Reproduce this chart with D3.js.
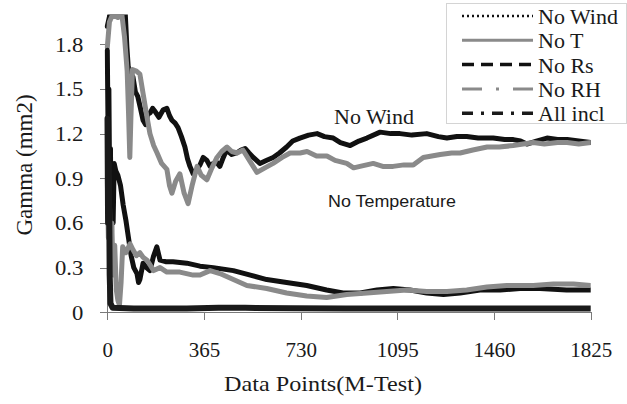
<!DOCTYPE html>
<html>
<head>
<meta charset="utf-8">
<script src="https://cdn.jsdelivr.net/npm/d3@7/dist/d3.min.js"></script>
<style>
  body { margin: 0; background: #fff; }
  svg { display: block; }
  .axis path, .axis line { stroke: #7a7a7a; shape-rendering: crispEdges; }
  .axis text { font-family: "Liberation Serif", serif; font-size: 21px; fill: #1a1a1a; }
  .label { font-family: "Liberation Serif", serif; fill: #1a1a1a; }
  .series { fill: none; stroke-linejoin: round; stroke-linecap: round; }
</style>
</head>
<body>
<svg id="chart" width="627" height="404"></svg>
<script>
// values: [data point, gamma]
var noWind = [[0,1.92],[10,2.0],[30,2.0],[50,2.0],[68,2.0],[74,1.78],[79,1.65],[88,1.60],[97,1.58],
  [106,1.48],[115,1.45],[124,1.38],[135,1.29],[145,1.26],[152,1.33],[162,1.34],[171,1.37],[180,1.35],
  [195,1.31],[211,1.36],[225,1.37],[235,1.32],[244,1.29],[256,1.27],[267,1.24],[280,1.18],[293,1.11],
  [303,1.03],[312,0.98],[324,0.93],[338,0.96],[350,0.99],[362,1.04],[376,1.02],[388,0.98],[400,1.00],
  [412,1.01],[425,0.98],[438,1.04],[450,1.09],[470,1.06],[488,1.07],[505,1.09],[520,1.10],[535,1.07],
  [551,1.04],[576,1.00],[600,1.02],[626,1.04],[650,1.07],[677,1.11],[700,1.15],[727,1.17],[760,1.19],
  [792,1.20],[820,1.18],[853,1.17],[880,1.14],[917,1.12],[950,1.15],[980,1.17],[1030,1.21],[1070,1.20],
  [1105,1.20],[1150,1.19],[1206,1.20],[1250,1.18],[1282,1.17],[1320,1.18],[1357,1.18],[1400,1.17],
  [1457,1.17],[1500,1.16],[1533,1.16],[1560,1.15],[1584,1.13],[1620,1.15],[1660,1.17],[1700,1.16],
  [1736,1.16],[1780,1.15],[1825,1.14]];
var noT = [[0,1.78],[8,1.95],[20,2.0],[40,1.98],[55,2.0],[65,1.85],[75,1.62],[80,1.35],[85,1.04],
  [89,1.30],[95,1.63],[110,1.62],[123,1.60],[135,1.47],[148,1.33],[161,1.20],[175,1.12],[188,1.07],
  [205,1.00],[225,0.96],[235,0.85],[244,0.80],[258,0.88],[274,0.93],[290,0.80],[305,0.73],[320,0.85],
  [339,0.98],[355,0.92],[376,0.89],[395,0.97],[414,1.04],[432,1.08],[452,1.11],[470,1.08],[490,1.07],
  [512,1.09],[540,1.01],[565,0.94],[595,0.97],[626,1.00],[660,1.04],[690,1.07],[728,1.07],[754,1.08],
  [790,1.05],[829,1.05],[860,1.02],[904,1.00],[930,0.97],[954,0.98],[1004,1.00],[1040,0.98],[1079,0.98],
  [1120,0.99],[1155,0.99],[1193,1.04],[1225,1.05],[1257,1.06],[1300,1.07],[1332,1.07],[1380,1.09],
  [1434,1.11],[1480,1.11],[1532,1.12],[1570,1.13],[1608,1.14],[1650,1.13],[1700,1.14],[1736,1.14],
  [1780,1.13],[1825,1.14]];
var noRs = [[0,1.76],[3,1.2],[6,1.5],[9,0.8],[12,1.1],[15,0.35],[18,0.9],[22,0.6],[26,1.0],[32,0.95],
  [40,0.92],[50,0.85],[60,0.72],[70,0.62],[80,0.5],[90,0.38],[100,0.30],[112,0.26],[118,0.20],[123,0.22],
  [135,0.33],[148,0.30],[161,0.28],[175,0.38],[187,0.44],[199,0.35],[220,0.34],[248,0.34],[300,0.33],
  [350,0.31],[400,0.30],[476,0.28],[540,0.25],[602,0.22],[677,0.20],[753,0.18],[828,0.15],[890,0.13],
  [955,0.13],[1018,0.15],[1080,0.16],[1143,0.15],[1206,0.13],[1269,0.12],[1332,0.13],[1407,0.15],
  [1483,0.15],[1558,0.16],[1634,0.16],[1734,0.15],[1825,0.15]];
var noRH = [[0,0.9],[4,0.5],[8,0.75],[12,0.3],[17,0.6],[22,0.25],[28,0.45],[34,0.15],[40,0.08],[46,0.05],
  [52,0.2],[58,0.44],[70,0.40],[86,0.46],[97,0.42],[110,0.38],[123,0.40],[135,0.37],[150,0.35],[175,0.28],
  [199,0.30],[225,0.27],[274,0.27],[324,0.25],[350,0.25],[388,0.28],[425,0.26],[476,0.22],[527,0.18],
  [602,0.16],[677,0.13],[753,0.11],[828,0.10],[904,0.12],[980,0.13],[1055,0.14],[1130,0.15],[1206,0.14],
  [1282,0.14],[1357,0.15],[1433,0.17],[1508,0.18],[1608,0.18],[1684,0.19],[1760,0.19],[1825,0.18]];
var allIncl = [[0,1.3],[3,0.6],[6,1.0],[9,0.25],[12,0.06],[20,0.03],[100,0.025],[300,0.025],[420,0.03],
  [520,0.03],[700,0.028],[900,0.025],[1200,0.025],[1500,0.025],[1825,0.025]];

var seriesNames = ["No Wind", "No T", "No Rs", "No RH", "All incl"];
var xTicks = [0, 365, 730, 1095, 1460, 1825];
var yTicks = [0, 0.3, 0.6, 0.9, 1.2, 1.5, 1.8];

var seriesData = [noWind, noT, noRs, noRH, allIncl];
var colors = ["#111", "#8a8a8a", "#111", "#8a8a8a", "#1a1a1a"];
var widths = [5, 5, 5, 5, 6];
var keyDash = ["2,3", null, "12,7", "20,14,3,14", "11,8,3,8"];
var keyWidth = [2.5, 3, 3.5, 3, 3.5];

var margin = {top: 14.5, left: 107.3};
var width = 483.4;
var height = 297.8;

var svg = d3.select("#chart");
var x = d3.scaleLinear().domain([0, 1825]).range([0, width]);
var y = d3.scaleLinear().domain([0, 2]).range([height, 0]);

function stretch(sel, k) {
  sel.each(function() {
    var w = this.getComputedTextLength();
    d3.select(this).attr("textLength", w * k).attr("lengthAdjust", "spacingAndGlyphs");
  });
}

var chart = svg.append("g")
    .attr("transform", `translate(${margin.left}, ${margin.top})`);

chart.append("clipPath").attr("id", "plot")
  .append("rect").attr("x", -3).attr("y", 0).attr("width", width + 3).attr("height", height + 3);

// axes
var xAxis = chart.append("g")
    .attr("class", "x axis")
    .attr("transform", `translate(0, ${height})`)
    .call(d3.axisBottom(x).tickValues(xTicks).tickSize(8).tickSizeOuter(0).tickFormat(d3.format("d")));
xAxis.selectAll("text").attr("y", 44.5).attr("dy", null);

var yAxis = chart.append("g")
    .attr("class", "y axis")
    .call(d3.axisLeft(y).tickValues(yTicks).tickSize(7).tickSizeOuter(0).tickPadding(17)
        .tickFormat(function(d) { return d === 0 ? "0" : d3.format(".1f")(d); }));
stretch(yAxis.selectAll("text"), 1.08);

// the five series
var line = d3.line()
    .x(function(d) { return x(d[0]); })
    .y(function(d) { return y(d[1]); });

chart.append("g")
    .attr("clip-path", "url(#plot)")
  .selectAll("path.series")
  .data(seriesData)
  .enter().append("path")
    .attr("class", "series")
    .attr("d", line)
    .attr("stroke", function(d, i) { return colors[i]; })
    .attr("stroke-width", function(d, i) { return widths[i]; });

// axis titles and notes
var xTitle = svg.append("text")
    .attr("class", "label")
    .attr("x", 323)
    .attr("y", 391)
    .style("font-size", "22px")
    .style("text-anchor", "middle")
    .text("Data Points(M-Test)");
stretch(xTitle, 1.1);

svg.append("text")
    .attr("class", "label")
    .attr("transform", "translate(32, 165) rotate(-90)")
    .style("font-size", "23px")
    .style("text-anchor", "middle")
    .text("Gamma (mm2)");

svg.append("text")
    .attr("class", "label")
    .attr("x", 374)
    .attr("y", 124)
    .style("font-size", "22px")
    .style("text-anchor", "middle")
    .text("No Wind");

var tNote = svg.append("text")
    .attr("x", 328)
    .attr("y", 207)
    .style("font-family", "'Liberation Sans', sans-serif")
    .style("font-size", "16.5px")
    .style("fill", "#1a1a1a")
    .text("No Temperature");
tNote.attr("textLength", 128).attr("lengthAdjust", "spacingAndGlyphs");

// legend
var legend = svg.append("g");
legend.append("rect")
    .attr("x", 446.5)
    .attr("y", 3.5)
    .attr("width", 180)
    .attr("height", 120)
    .attr("fill", "#fff")
    .attr("stroke", "#d4d4d4");

var item = legend.selectAll("g.item")
    .data(seriesNames)
    .enter().append("g")
      .attr("class", "item")
      .attr("transform", function(d, i) { return `translate(0, ${16 + i * 24.3})`; });
item.append("line")
    .attr("x1", 462)
    .attr("x2", 533)
    .attr("stroke", function(d, i) { return colors[i]; })
    .attr("stroke-width", function(d, i) { return keyWidth[i]; })
    .attr("stroke-dasharray", function(d, i) { return keyDash[i]; });
item.append("text")
    .attr("class", "label")
    .attr("x", 538)
    .attr("y", 8)
    .style("font-size", "22px")
    .text(function(d) { return d; });
</script>
</body>
</html>
